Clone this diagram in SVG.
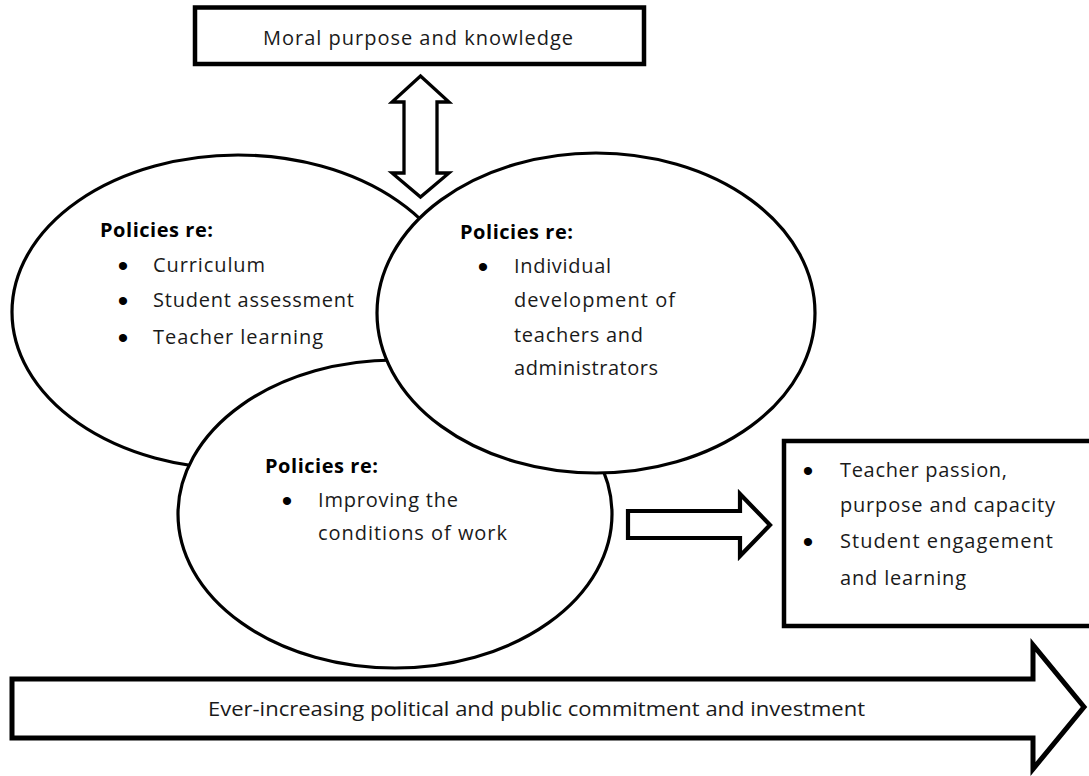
<svg xmlns="http://www.w3.org/2000/svg" width="1089" height="776" viewBox="0 0 1089 776">
<style>
.sh{fill:#fff;stroke:#000;stroke-linejoin:miter}
.el{stroke-width:3.2}
.t{font-family:"Open Sans","Liberation Sans",sans-serif;font-size:20px;fill:#1a1a1a}
.b{font-weight:bold;fill:#000}
.bu{font-family:"Liberation Sans",Arial,sans-serif;font-size:30px;text-anchor:middle;fill:#000}
</style>
<rect width="1089" height="776" fill="#fff"/>
<g id="node-curriculum">
<ellipse class="sh el" cx="238" cy="312" rx="226" ry="157"/>
<text class="t b" x="100" y="237" textLength="113" lengthAdjust="spacing">Policies re:</text>
<text class="bu" x="123" y="275.6">•</text>
<text class="t" x="153" y="272" textLength="112" lengthAdjust="spacing">Curriculum</text>
<text class="bu" x="123" y="310.6">•</text>
<text class="t" x="153" y="307" textLength="201" lengthAdjust="spacing">Student assessment</text>
<text class="bu" x="123" y="347.6">•</text>
<text class="t" x="153" y="344" textLength="170" lengthAdjust="spacing">Teacher learning</text>
</g>
<g id="node-conditions">
<ellipse class="sh el" cx="395" cy="514" rx="217" ry="154"/>
<text class="t b" x="265" y="473" textLength="113" lengthAdjust="spacing">Policies re:</text>
<text class="bu" x="287" y="510.6">•</text>
<text class="t" x="318" y="507" textLength="140" lengthAdjust="spacing">Improving the</text>
<text class="t" x="318" y="540" textLength="189" lengthAdjust="spacing">conditions of work</text>
</g>
<g id="node-development">
<ellipse class="sh el" cx="596" cy="313" rx="219" ry="160"/>
<text class="t b" x="460" y="239" textLength="113" lengthAdjust="spacing">Policies re:</text>
<text class="bu" x="483" y="276.6">•</text>
<text class="t" x="514" y="273" textLength="97" lengthAdjust="spacing">Individual</text>
<text class="t" x="514" y="307" textLength="161" lengthAdjust="spacing">development of</text>
<text class="t" x="514" y="342" textLength="129" lengthAdjust="spacing">teachers and</text>
<text class="t" x="514" y="375" textLength="144" lengthAdjust="spacing">administrators</text>
</g>
<g id="node-moral-purpose">
<rect class="sh" x="195" y="7.5" width="449" height="56.5" stroke-width="4.5"/>
<text class="t" x="263" y="45" textLength="310" lengthAdjust="spacing">Moral purpose and knowledge</text>
</g>
<g id="node-outcomes">
<rect class="sh" x="784" y="441" width="320" height="185" stroke-width="4.5"/>
<text class="bu" x="808" y="480.6">•</text>
<text class="t" x="840" y="477" textLength="167" lengthAdjust="spacing">Teacher passion,</text>
<text class="t" x="840" y="512" textLength="215" lengthAdjust="spacing">purpose and capacity</text>
<text class="bu" x="808" y="551.6">•</text>
<text class="t" x="840" y="548" textLength="213" lengthAdjust="spacing">Student engagement</text>
<text class="t" x="840" y="585" textLength="126" lengthAdjust="spacing">and learning</text>
</g>
<g id="node-commitment">
<path class="sh" stroke-width="5" d="M12,679 H1033 V645 L1084,707 L1033,769 V738 H12 Z"/>
<text class="t" x="208" y="716" font-size="21" textLength="657" lengthAdjust="spacingAndGlyphs">Ever-increasing political and public commitment and investment</text>
</g>
<g id="connectors">
<path class="sh" stroke-width="3.3" d="M420.5,76 L449,102 H437 V173 H449 L420.5,197 L392,173 H404 V102 H392 Z"/>
<path class="sh" stroke-width="4.2" d="M628,511 H740 V494 L770,525 L740,556 V538 H628 Z"/>
</g>
</svg>
